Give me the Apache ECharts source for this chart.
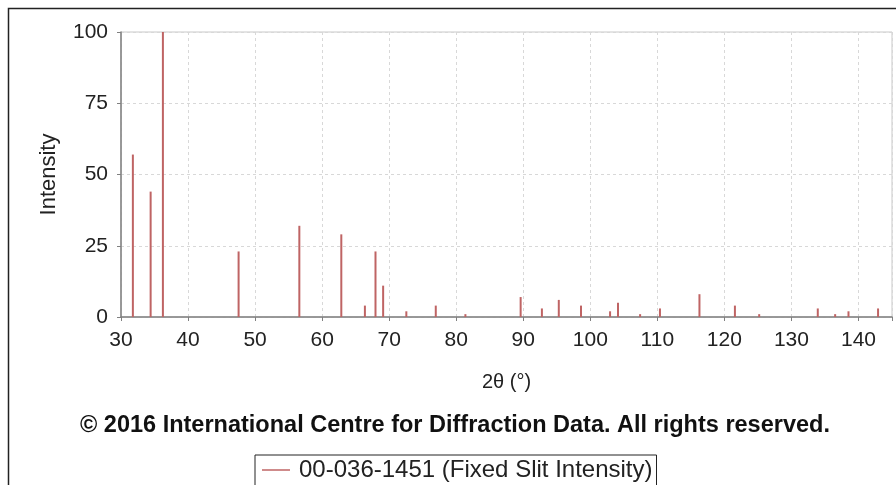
<!DOCTYPE html>
<html>
<head>
<meta charset="utf-8">
<script src="https://cdn.jsdelivr.net/npm/echarts@6/dist/echarts.min.js"></script>
<style>html,body{margin:0;padding:0;background:#fff}#c{width:896px;height:485px}</style>
</head>
<body>
<div id="c"></div>
<script>
// 2θ positions (degrees) of the reference lines
var twoTheta = [31.77, 34.42, 36.25, 47.54, 56.60, 62.86, 66.38, 67.96, 69.10, 72.56, 76.95, 81.37, 89.61, 92.78, 95.30, 98.61, 102.95, 104.13, 107.43, 110.39, 116.28, 121.57, 125.19, 133.93, 136.52, 138.51, 142.92];
// relative intensities
var intensity = [57, 44, 100, 23, 32, 29, 4, 23, 11, 2, 4, 1, 7, 3, 6, 4, 2, 5, 1, 3, 8, 4, 1, 3, 1, 2, 3];
var xTicks = [30, 40, 50, 60, 70, 80, 90, 100, 110, 120, 130, 140];
var yTicks = [0, 25, 50, 75, 100];
var seriesName = '00-036-1451 (Fixed Slit Intensity)';
var copyright = '\u00A9 2016 International Centre for Diffraction Data. All rights reserved.';

var data = twoTheta.map(function (t, i) { return [t, intensity[i]]; });
var FONT = '"Liberation Sans", Arial, sans-serif';

var chart = echarts.init(document.getElementById('c'), null, { renderer: 'canvas' });
chart.setOption({
  animation: false,
  backgroundColor: '#fff',
  graphic: [{
    type: 'rect', silent: true, z: -1,
    shape: { x: 8.5, y: 8.5, width: 1000, height: 1000 },
    style: { fill: 'none', stroke: '#222', lineWidth: 1.5 }
  }],
  title: {
    text: copyright,
    left: 80,
    top: 414,
    padding: 0,
    textStyle: { fontFamily: FONT, fontWeight: 'bold', fontSize: 23.5, color: '#111' }
  },
  legend: {
    data: [{ name: seriesName, icon: 'rect' }],
    left: 255,
    top: 455,
    itemWidth: 28,
    itemHeight: 1.5,
    itemGap: 6,
    padding: [3, 4, 20, 7],
    borderColor: '#222',
    borderWidth: 1,
    textStyle: { fontFamily: FONT, fontSize: 24, color: '#222', padding: [0, 0, 0, 4] }
  },
  grid: {
    left: 121, right: 4, top: 32, bottom: 168,
    show: true, borderColor: '#c8c8c8', borderWidth: 1, backgroundColor: '#fff'
  },
  xAxis: {
    type: 'value',
    min: 30, max: 145, interval: 10,
    name: '2\u03B8 (\u00B0)',
    nameLocation: 'middle',
    nameGap: 55,
    nameTextStyle: { fontFamily: FONT, fontSize: 20, color: '#222', padding: [0, 0, 0, 0] },
    axisLine: { show: true, onZero: false, lineStyle: { color: '#808080', width: 1.5 } },
    axisTick: { show: true, inside: false, length: 4, lineStyle: { color: '#808080' } },
    axisLabel: {
      fontFamily: FONT, fontSize: 21, color: '#222', margin: 13,
      formatter: function (v) { return xTicks.indexOf(v) >= 0 ? String(v) : ''; }
    },
    splitLine: { show: true, lineStyle: { color: '#d8d8d8', type: [3, 3], width: 1 } }
  },
  yAxis: {
    type: 'value',
    min: 0, max: 100, interval: 25,
    name: 'Intensity',
    nameLocation: 'middle',
    nameGap: 61,
    nameRotate: 90,
    nameTextStyle: { fontFamily: FONT, fontSize: 22, color: '#222' },
    axisLine: { show: true, lineStyle: { color: '#808080', width: 1.5 } },
    axisTick: { show: true, inside: false, length: 4, lineStyle: { color: '#808080' } },
    axisLabel: {
      fontFamily: FONT, fontSize: 21, color: '#222', margin: 13,
      formatter: function (v) { return yTicks.indexOf(v) >= 0 ? String(v) : ''; }
    },
    splitLine: { show: true, lineStyle: { color: '#d8d8d8', type: [3, 3], width: 1 } }
  },
  series: [{
    name: seriesName,
    type: 'bar',
    barWidth: 2,
    data: data,
    itemStyle: { color: '#bf6464' },
    z: 3
  }]
});
</script>
</body>
</html>
